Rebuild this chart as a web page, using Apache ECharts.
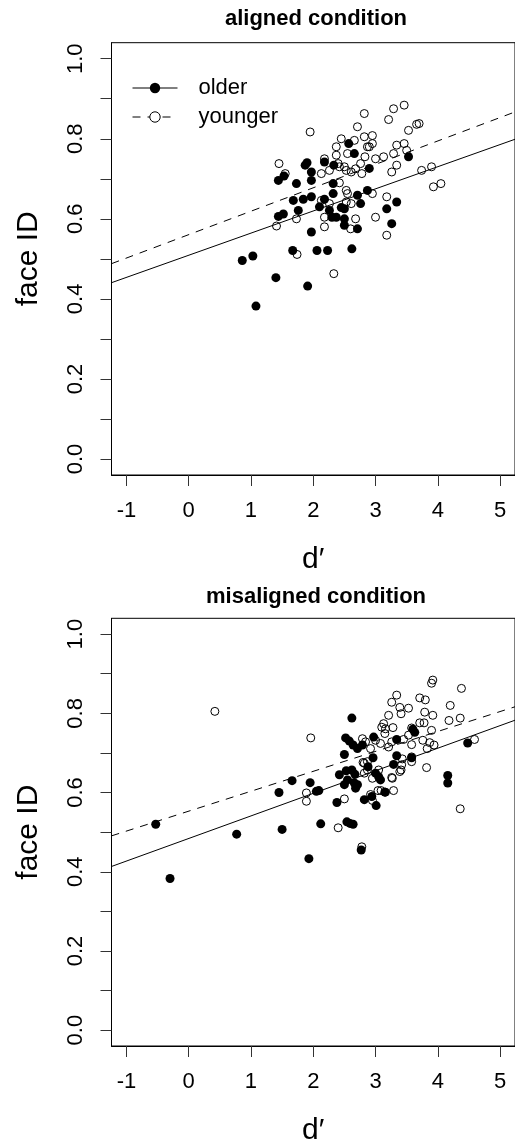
<!DOCTYPE html>
<html>
<head>
<meta charset="utf-8">
<script src="https://cdn.jsdelivr.net/npm/echarts@6/dist/echarts.min.js"></script>
<style>
  html, body { margin: 0; padding: 0; background: #fff; }
  #main { width: 515px; height: 1147px; }
</style>
</head>
<body>
<div id="main"></div>
<script>
  var panelTitles = ['aligned condition', 'misaligned condition'];
  var groupNames = ['older', 'younger'];
  var xName = 'd\u2032';
  var yName = 'face ID';
  var xTicks = [-1, 0, 1, 2, 3, 4, 5];
  var yTicks = [0, 0.1, 0.2, 0.3, 0.4, 0.5, 0.6, 0.7, 0.8, 0.9, 1.0];
  var yLabels = [0, 0.2, 0.4, 0.6, 0.8, 1.0];
  var xRange = [-1.24, 5.24];
  var yRange = [-0.04, 1.04];

  // [d', face ID]
  var alignedOlder = [
    [0.86, 0.496], [1.03, 0.507], [1.40, 0.453], [1.08, 0.382], [1.91, 0.432],
    [1.67, 0.521], [2.06, 0.521], [2.23, 0.521], [2.62, 0.525], [1.97, 0.567],
    [2.71, 0.575], [2.50, 0.584], [1.44, 0.606], [1.52, 0.612], [1.76, 0.621],
    [1.68, 0.646], [1.84, 0.649], [1.97, 0.655], [2.10, 0.630], [2.18, 0.649],
    [2.26, 0.621], [2.32, 0.663], [2.32, 0.688], [2.30, 0.604], [2.37, 0.604],
    [2.45, 0.628], [2.50, 0.625], [2.50, 0.600], [2.71, 0.659], [2.76, 0.638],
    [2.87, 0.671], [3.18, 0.625], [3.34, 0.642], [3.26, 0.588], [1.44, 0.696],
    [1.53, 0.707], [1.73, 0.688], [1.87, 0.734], [1.90, 0.740], [1.97, 0.717],
    [1.97, 0.696], [2.18, 0.742], [2.33, 0.734], [2.57, 0.788], [2.66, 0.763],
    [2.90, 0.726], [3.53, 0.755]
  ];
  var alignedYounger = [
    [1.45, 0.738], [1.55, 0.713], [1.95, 0.817], [2.13, 0.713], [2.18, 0.750],
    [2.37, 0.780], [2.37, 0.759], [2.45, 0.800], [2.40, 0.738], [2.50, 0.730],
    [2.55, 0.763], [2.66, 0.796], [2.71, 0.830], [2.82, 0.863], [2.82, 0.805],
    [2.87, 0.780], [2.95, 0.808], [2.95, 0.788], [3.00, 0.750], [3.13, 0.755],
    [3.21, 0.848], [3.29, 0.875], [3.46, 0.884], [3.29, 0.763], [3.34, 0.784],
    [3.46, 0.788], [3.53, 0.821], [3.66, 0.836], [3.70, 0.838], [3.26, 0.717],
    [3.34, 0.734], [3.50, 0.771], [3.74, 0.721], [3.90, 0.730], [3.93, 0.680],
    [4.05, 0.688], [2.26, 0.721], [2.42, 0.730], [2.53, 0.721], [2.61, 0.717],
    [2.68, 0.725], [2.76, 0.738], [2.78, 0.713], [2.83, 0.755], [2.90, 0.780],
    [2.42, 0.690], [2.53, 0.671], [2.55, 0.663], [2.61, 0.638], [2.53, 0.642],
    [2.95, 0.663], [3.18, 0.655], [2.13, 0.646], [2.26, 0.638], [1.73, 0.600],
    [1.41, 0.582], [2.18, 0.604], [2.18, 0.580], [2.68, 0.600], [2.60, 0.575],
    [3.00, 0.604], [3.18, 0.559], [1.74, 0.511], [2.33, 0.463]
  ];
  var misalignedOlder = [
    [-0.53, 0.520], [-0.30, 0.383], [0.77, 0.495], [1.45, 0.600], [1.50, 0.507],
    [1.66, 0.630], [1.93, 0.433], [1.95, 0.625], [2.05, 0.603], [2.09, 0.605],
    [2.12, 0.521], [2.38, 0.575], [2.50, 0.696], [2.52, 0.738], [2.58, 0.730],
    [2.64, 0.720], [2.71, 0.711], [2.79, 0.720], [2.62, 0.788], [2.42, 0.645],
    [2.53, 0.655], [2.62, 0.657], [2.67, 0.646], [2.50, 0.620], [2.55, 0.632],
    [2.66, 0.624], [2.71, 0.620], [2.68, 0.611], [2.54, 0.526], [2.59, 0.522],
    [2.64, 0.520], [2.77, 0.455], [2.82, 0.582], [2.94, 0.590], [3.01, 0.567],
    [2.88, 0.665], [2.96, 0.688], [3.00, 0.649], [3.05, 0.640], [3.08, 0.632],
    [3.15, 0.601], [2.97, 0.740], [3.34, 0.734], [3.34, 0.693], [3.29, 0.671],
    [3.58, 0.688], [3.60, 0.760], [3.63, 0.752], [4.16, 0.643], [4.16, 0.624],
    [4.48, 0.725]
  ];
  var misalignedYounger = [
    [0.42, 0.805], [1.96, 0.738], [1.89, 0.599], [1.89, 0.578], [2.40, 0.511],
    [2.50, 0.584], [2.78, 0.463], [2.79, 0.736], [2.84, 0.728], [2.92, 0.711],
    [3.00, 0.732], [2.87, 0.678], [2.80, 0.676], [2.82, 0.649], [2.95, 0.636],
    [3.05, 0.657], [2.92, 0.595], [2.95, 0.580], [3.04, 0.605], [3.09, 0.605],
    [3.16, 0.601], [3.27, 0.636], [3.29, 0.605], [3.41, 0.657], [3.43, 0.685],
    [3.58, 0.678], [3.58, 0.690], [3.82, 0.663], [4.36, 0.559], [3.10, 0.765],
    [3.13, 0.774], [3.21, 0.795], [3.26, 0.828], [3.34, 0.846], [3.39, 0.815],
    [3.41, 0.799], [3.53, 0.813], [3.28, 0.764], [3.58, 0.763], [3.71, 0.839],
    [3.80, 0.834], [3.79, 0.803], [3.78, 0.776], [3.71, 0.776], [3.90, 0.876],
    [3.92, 0.884], [3.92, 0.795], [3.90, 0.757], [4.20, 0.820], [4.18, 0.782],
    [4.36, 0.788], [4.38, 0.863], [4.59, 0.734], [3.94, 0.720], [3.76, 0.732],
    [3.58, 0.721], [3.53, 0.745], [3.45, 0.734], [3.21, 0.715], [3.08, 0.724],
    [3.26, 0.728], [3.15, 0.749], [3.87, 0.726], [3.83, 0.711], [3.42, 0.670],
    [3.39, 0.653], [3.26, 0.638], [3.16, 0.761], [2.82, 0.674], [2.87, 0.657]
  ];

  // regression lines: [intercept, slope]
  var alignedFitOlder = [0.509, 0.0553];
  var alignedFitYounger = [0.5605, 0.0585];
  var misalignedFitOlder = [0.484, 0.057];
  var misalignedFitYounger = [0.553, 0.0503];

  var fontFamily = '"Liberation Sans", Arial, Helvetica, sans-serif';
  var black = '#000';

  function fitLine(coef) {
    return xRange.map(function(x) { return [x, coef[0] + coef[1] * x]; });
  }

  function makeXAxis(idx) {
    return {
      type: 'value', gridIndex: idx, min: xRange[0], max: xRange[1],
      name: xName, nameLocation: 'middle', nameGap: 70,
      nameTextStyle: { fontSize: 30, color: black, fontFamily: fontFamily },
      axisLine: { show: true, onZero: false, lineStyle: { color: black, width: 1 } },
      axisTick: { show: true, inside: false, length: 11, customValues: xTicks, lineStyle: { color: '#333', width: 1 } },
      axisLabel: { show: true, margin: 25, customValues: xTicks, fontSize: 22, color: black, fontFamily: fontFamily },
      splitLine: { show: false }
    };
  }

  function makeYAxis(idx) {
    return {
      type: 'value', gridIndex: idx, min: yRange[0], max: yRange[1],
      name: yName, nameLocation: 'middle', nameGap: 68,
      nameTextStyle: { fontSize: 30, color: black, fontFamily: fontFamily },
      axisLine: { show: true, onZero: false, lineStyle: { color: black, width: 1 } },
      axisTick: { show: true, inside: false, length: 11, customValues: yTicks, lineStyle: { color: '#333', width: 1 } },
      axisLabel: {
        show: true, rotate: 90, margin: 25, customValues: yLabels, fontSize: 22,
        color: black, fontFamily: fontFamily,
        formatter: function(v) { return v.toFixed(1); }
      },
      splitLine: { show: false }
    };
  }

  function panelSeries(idx, older, younger, fitOlder, fitYounger) {
    return [
      {
        name: groupNames[0], type: 'line', xAxisIndex: idx, yAxisIndex: idx,
        data: fitLine(fitOlder), symbol: 'circle', showSymbol: false, silent: true, z: 3,
        lineStyle: { color: black, width: 1 }, itemStyle: { color: black }
      },
      {
        name: groupNames[1], type: 'line', xAxisIndex: idx, yAxisIndex: idx,
        data: fitLine(fitYounger), symbol: 'circle', showSymbol: false, silent: true, z: 3,
        lineStyle: { color: black, width: 1, type: [8, 7] },
        itemStyle: { color: '#fff', borderColor: black, borderWidth: 1 }
      },
      {
        name: groupNames[0], type: 'scatter', xAxisIndex: idx, yAxisIndex: idx,
        data: older, symbol: 'circle', symbolSize: 9, silent: true, z: 2,
        itemStyle: { color: black, opacity: 1 }
      },
      {
        name: groupNames[1], type: 'scatter', xAxisIndex: idx, yAxisIndex: idx,
        data: younger, symbol: 'circle', symbolSize: 8, silent: true, z: 2,
        itemStyle: { color: 'rgba(0,0,0,0)', borderColor: black, borderWidth: 1, opacity: 1 }
      }
    ];
  }

  var chart = echarts.init(document.getElementById('main'));
  chart.setOption({
    animation: false,
    backgroundColor: '#fff',
    textStyle: { fontFamily: fontFamily },
    title: [
      { text: panelTitles[0], left: 316, top: 8, textAlign: 'center', padding: 0,
        textStyle: { fontSize: 22, fontWeight: 'bold', color: black, fontFamily: fontFamily } },
      { text: panelTitles[1], left: 316, top: 586, textAlign: 'center', padding: 0,
        textStyle: { fontSize: 22, fontWeight: 'bold', color: black, fontFamily: fontFamily } }
    ],
    legend: {
      orient: 'vertical', left: 132, top: 77, padding: 0,
      itemWidth: 45, itemHeight: 13, itemGap: 7,
      selectedMode: false,
      textStyle: { fontSize: 22, lineHeight: 22, color: black, fontFamily: fontFamily, padding: [0, 0, 0, 16] },
      data: [
        { name: groupNames[0], itemStyle: { color: black }, lineStyle: { color: black, width: 1, type: 'solid' } },
        { name: groupNames[1], itemStyle: { color: '#fff', borderColor: black, borderWidth: 1 }, lineStyle: { color: black, width: 1, type: [8, 7] } }
      ]
    },
    grid: [
      { left: 111.5, top: 42.7, right: -6, height: 432.3, show: true, borderColor: black, borderWidth: 1, backgroundColor: 'transparent' },
      { left: 111.5, top: 618.3, right: -6, height: 432.7, show: true, borderColor: black, borderWidth: 1, backgroundColor: 'transparent' }
    ],
    xAxis: [makeXAxis(0), makeXAxis(1)],
    yAxis: [makeYAxis(0), makeYAxis(1)],
    series: panelSeries(0, alignedOlder, alignedYounger, alignedFitOlder, alignedFitYounger)
      .concat(panelSeries(1, misalignedOlder, misalignedYounger, misalignedFitOlder, misalignedFitYounger))
  });
</script>
</body>
</html>
